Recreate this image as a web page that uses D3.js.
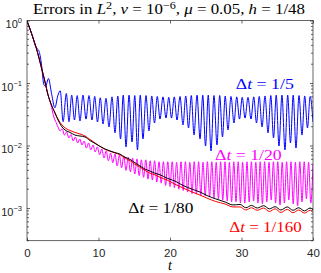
<!DOCTYPE html>
<html>
<head>
<meta charset="utf-8">
<script src="https://cdn.jsdelivr.net/npm/d3@7"></script>
<style>
  body { margin: 0; background: #fff; }
  svg { display: block; }
</style>
</head>
<body>
<div class="wrapper"></div>
<script>
// tick values
var xTicks = [0, 10, 20, 30, 40];
var yTicks = [1, 1e-1, 1e-2, 1e-3];
var yTickExp = ["0", "\u22121", "\u22122", "\u22123"];

// dt = 1/5
var blue = [[0,0.98],[0.42,0.73],[0.84,0.53],[1.1,0.41],[1.36,0.36],[1.65,0.33],[2.0,0.21],[2.35,0.095],[2.6,0.088],
  [3.0,0.118],[3.45,0.066],[3.9,0.040],[4.3,0.062],[4.65,0.075],[5.05,0.024],[5.5,0.068],[5.87,0.024],[6.25,0.064],
  [6.64,0.0256],[7.02,0.063],[7.41,0.0247],[7.83,0.064],[8.25,0.0265],[8.67,0.063],[9.09,0.0256],[9.47,0.061],
  [9.86,0.0238],[10.25,0.058],[10.63,0.0221],[11.05,0.057],[11.47,0.0198],[11.89,0.06],[12.31,0.0159],[12.7,0.062],
  [13.08,0.0127],[13.46,0.064],[13.85,0.0095],[14.27,0.064],[14.69,0.0114],[15.07,0.063],[15.45,0.0085],[15.84,0.064],
  [16.22,0.0127],[16.64,0.063],[17.06,0.0171],[17.45,0.062],[17.83,0.0229],[18.22,0.061],[18.6,0.0265],[19.02,0.06],
  [19.44,0.0275],[19.83,0.059],[20.21,0.0275],[20.6,0.06],[20.98,0.0256],[21.4,0.061],[21.82,0.0213],[22.2,0.062],
  [22.59,0.0191],[22.98,0.063],[23.36,0.0147],[23.78,0.064],[24.2,0.0127],[24.58,0.064],[24.97,0.0098],[25.35,0.064],
  [25.73,0.0082],[26.15,0.063],[26.57,0.0102],[26.95,0.063],[27.34,0.0137],[27.72,0.062],[28.11,0.0177],[28.53,0.061],
  [28.95,0.0229],[29.33,0.06],[29.72,0.0265],[30.1,0.059],[30.49,0.0275],[30.91,0.059],[31.33,0.0265],[31.71,0.06],
  [32.1,0.0229],[32.48,0.061],[32.87,0.0198],[33.29,0.062],[33.71,0.0159],[34.1,0.063],[34.48,0.0132],[34.86,0.064],
  [35.24,0.0098],[35.66,0.064],[36.08,0.0085],[36.46,0.064],[36.85,0.011],[37.23,0.064],[37.62,0.0091],[38.04,0.063],
  [38.46,0.0147],[38.84,0.062],[39.23,0.0191],[39.6,0.061],[40.0,0.0238]];

// dt = 1/20: smooth start, then trough/peak values every half period
var magentaHead = [[0,0.98],[0.42,0.73],[0.84,0.525],[1.26,0.376],[1.68,0.251],[2.1,0.162],[2.52,0.104],
  [2.94,0.0645],[3.36,0.045],[3.7,0.030],[4.1,0.023],[4.4,0.019]];
var magentaStart = 4.615, magentaStep = 0.3077;
var magentaOsc = [0.0171,0.0185, 0.0147,0.0165, 0.0132,0.0150, 0.0118,0.0137, 0.0110,0.0127, 0.0102,0.0118,
  0.0091,0.0110, 0.0085,0.0102, 0.0079,0.0095, 0.0071,0.0088, 0.0063,0.0082, 0.0057,0.0076, 0.0053,0.0073,
  0.0047,0.0070, 0.0044,0.0068, 0.0040,0.0065, 0.0038,0.0063, 0.0035,0.0061, 0.0033,0.0059, 0.0031,0.0059,
  0.0029,0.0057, 0.0028,0.0057, 0.0026,0.0055, 0.0025,0.0055, 0.0023,0.0055, 0.0022,0.0055, 0.0021,0.0054,
  0.0020,0.0055, 0.0019,0.0055, 0.0018,0.0054, 0.0017,0.0055, 0.00167,0.0055, 0.0016,0.0054, 0.00156,0.0055,
  0.0015,0.0055, 0.00145,0.0054, 0.0014,0.0055, 0.00134,0.0055, 0.00129,0.0054, 0.00125,0.0055, 0.00125,0.0055,
  0.0012,0.0054, 0.0012,0.0055, 0.00125,0.0055, 0.00129,0.0054, 0.0012,0.0055, 0.00116,0.0055, 0.00125,0.0054,
  0.00134,0.0055, 0.0012,0.0055, 0.00112,0.0054, 0.0012,0.0055, 0.00134,0.0055, 0.00116,0.0054, 0.00108,0.0055,
  0.00125,0.0055, 0.0014,0.0054, 0.0012,0.0050];

// dt = 1/80
var black = [[0,0.98],[0.42,0.73],[0.84,0.525],[1.26,0.376],[1.68,0.251],[2.1,0.162],[2.52,0.104],[2.94,0.0645],
  [3.36,0.0463],[3.92,0.0331],[4.34,0.0256],[4.9,0.0198],[5.45,0.0173],[6.01,0.0162],[6.71,0.0147],[7.41,0.0142],
  [8.11,0.0137],[8.81,0.0120],[9.51,0.0108],[10.2,0.0097],[10.9,0.0088],[11.6,0.0082],[12.3,0.0077],[13.0,0.0073],
  [13.7,0.0065],[14.4,0.0060],[15.1,0.0053],[15.8,0.0047],[16.5,0.0042],[17.2,0.0039],[17.9,0.0036],[18.6,0.0034],
  [19.6,0.0030],[20.7,0.0027],[21.8,0.0023],[23.1,0.0020],[24.2,0.0018],[25.3,0.00156],[26.4,0.0014],[27.7,0.00125],
  [28.8,0.00112],[29.8,0.00114],[30.6,0.00101],[31.4,0.0011],[32.2,0.001],[33.1,0.00109],[33.9,0.00097],
  [34.7,0.00105],[35.5,0.00093],[36.4,0.00104],[37.2,0.00092],[38.0,0.00101],[38.8,0.0009],[39.6,0.001],[40,0.00093]];

// dt = 1/160
var red = [[0,0.98],[0.42,0.73],[0.84,0.525],[1.26,0.376],[1.68,0.251],[2.1,0.162],[2.52,0.104],[2.94,0.0645],
  [3.36,0.0463],[3.92,0.0331],[4.34,0.0265],[4.9,0.0213],[5.45,0.0187],[6.01,0.0174],[6.71,0.0162],[7.41,0.0153],
  [8.11,0.0142],[8.81,0.0125],[9.51,0.0110],[10.2,0.0097],[10.9,0.0087],[11.6,0.0081],[12.3,0.0076],[13.0,0.0071],
  [13.7,0.0063],[14.4,0.0057],[15.1,0.0050],[15.8,0.0045],[16.5,0.0040],[17.2,0.0036],[17.9,0.0034],[18.6,0.0031],
  [19.6,0.0028],[20.7,0.0024],[21.8,0.0021],[23.1,0.0018],[24.2,0.00161],[25.3,0.00142],[26.4,0.00127],[27.7,0.00116],
  [28.8,0.00104],[29.8,0.00104],[30.6,0.00093],[31.4,0.00101],[32.2,0.00092],[33.1,0.001],[33.9,0.00088],
  [34.7,0.00097],[35.5,0.00085],[36.4,0.00095],[37.2,0.00084],[38.0,0.00093],[38.8,0.00083],[39.6,0.00092],[40,0.00085]];

var seriesLabels = ["1/5", "1/20", "1/80", "1/160"];

var w = 321, h = 273,
    x0 = 27, x1 = 313, y0 = 20.5, y1 = 240.7;

var svg = d3.select(".wrapper").append("svg")
    .attr("width", w)
    .attr("height", h);

var x = d3.scaleLinear().domain([0, 40]).range([x0, x1]);
var y = d3.scaleLog().domain([3e-4, 1]).range([y1, y0]);

svg.append("clipPath").attr("id", "clip")
  .append("rect").attr("x", x0).attr("y", y0).attr("width", x1 - x0).attr("height", y1 - y0);

var line = d3.line()
    .x(function(d) { return x(d[0]); })
    .y(function(d) { return y(d[1]); })
    .curve(d3.curveMonotoneX);

var magenta = magentaHead.concat(magentaOsc.map(function(v, i) {
  return [magentaStart + i * magentaStep, v];
}));

var series = [
  {data: blue, color: "#0000ff"},
  {data: magenta, color: "#ff00ff"},
  {data: red, color: "#ff0000"},
  {data: black, color: "#000000"}
];

var plot = svg.append("g").attr("clip-path", "url(#clip)");
plot.selectAll("path")
    .data(series)
  .enter().append("path")
    .attr("d", function(d) { return line(d.data); })
    .attr("fill", "none")
    .attr("stroke", function(d) { return d.color; })
    .attr("stroke-width", 1)
    .attr("stroke-linejoin", "round");

// axes (ticks inside, box)
var axisColor = "#262626";
var tickFont = "'Liberation Sans', Arial, Helvetica, sans-serif";

var gx = svg.append("g").attr("transform", "translate(0," + y1 + ")")
    .call(d3.axisBottom(x).tickValues(xTicks).tickSize(-3).tickPadding(8.5).tickFormat(d3.format("d")));
gx.select(".domain").remove();
gx.selectAll("line").attr("stroke", axisColor).attr("stroke-width", 0.7);
gx.selectAll("text").attr("font-family", tickFont).attr("font-size", 11.5).attr("fill", axisColor);

svg.append("g").attr("transform", "translate(0," + y0 + ")")
    .call(d3.axisTop(x).tickValues(xTicks).tickSize(-3).tickFormat(""))
    .call(function(g) { g.select(".domain").remove(); g.selectAll("line").attr("stroke", axisColor).attr("stroke-width", 0.7); });

var gy = svg.append("g").attr("transform", "translate(" + x0 + ",0)")
    .call(d3.axisLeft(y).tickValues(yTicks).tickSize(-3).tickPadding(5).tickFormat(""));
gy.select(".domain").remove();
gy.selectAll("line").attr("stroke", axisColor).attr("stroke-width", 0.7);
gy.selectAll(".tick text").each(function(d, i) {
  var t = d3.select(this).attr("dy", null).attr("y", 7)
      .attr("font-family", tickFont).attr("font-size", 11).attr("fill", axisColor);
  t.append("tspan").text("10");
  t.append("tspan").attr("font-size", 7.5).attr("dy", -5).text(yTickExp[yTicks.indexOf(d)]);
});

svg.append("g").attr("transform", "translate(" + x1 + ",0)")
    .call(d3.axisRight(y).tickValues(yTicks).tickSize(-3).tickFormat(""))
    .call(function(g) { g.select(".domain").remove(); g.selectAll("line").attr("stroke", axisColor).attr("stroke-width", 0.7); });

// minor log ticks
var minor = [];
[-4, -3, -2, -1].forEach(function(e) {
  d3.range(2, 10).forEach(function(m) {
    var v = m * Math.pow(10, e);
    if (v >= 3e-4 && v < 1) minor.push(v);
  });
});
svg.append("g").selectAll("line.minl").data(minor).enter().append("line")
    .attr("x1", x0).attr("x2", x0 + 2)
    .attr("y1", function(d) { return y(d); }).attr("y2", function(d) { return y(d); })
    .attr("stroke", axisColor).attr("stroke-width", 0.7);
svg.append("g").selectAll("line.minr").data(minor).enter().append("line")
    .attr("x1", x1).attr("x2", x1 - 2)
    .attr("y1", function(d) { return y(d); }).attr("y2", function(d) { return y(d); })
    .attr("stroke", axisColor).attr("stroke-width", 0.7);

svg.append("rect")
    .attr("x", x0).attr("y", y0).attr("width", x1 - x0).attr("height", y1 - y0)
    .attr("fill", "none").attr("stroke", axisColor).attr("stroke-width", 0.7);

// text in LaTeX-ish serif
var serif = "'Liberation Serif', 'Times New Roman', serif";
function mathText(g, parts) {
  parts.forEach(function(p) {
    var s = g.append("tspan").text(p.t);
    if (p.it) s.attr("font-style", "italic");
    if (p.sup) s.attr("font-size", "0.72em").attr("dy", -5);
    if (p.down) s.attr("dy", 5);
  });
  return g;
}

var title = svg.append("text")
    .attr("x", 33).attr("y", 14)
    .attr("font-family", serif).attr("font-size", 14).attr("fill", "#000")
    .attr("textLength", 272).attr("lengthAdjust", "spacingAndGlyphs");
mathText(title, [
  {t: "Errors in "}, {t: "L", it: true}, {t: "2", sup: true}, {t: ", ", down: true},
  {t: "\u03bd", it: true}, {t: " = 10"}, {t: "\u22126", sup: true}, {t: ", ", down: true},
  {t: "\u03bc", it: true}, {t: " = 0.05, "}, {t: "h", it: true}, {t: " = 1/48"}
]);

var labels = [
  {t: 29.2, v: 0.080, wd: 58, color: "#0000ff"},
  {t: 26.3, v: 0.00586, wd: 66.7, color: "#ff00ff"},
  {t: 14.17, v: 0.00083, wd: 65, color: "#000000"},
  {t: 28.3, v: 0.000413, wd: 72.4, color: "#ff0000"}
];
labels.forEach(function(l, i) {
  var g = svg.append("text")
      .attr("x", x(l.t)).attr("y", y(l.v))
      .attr("font-family", serif).attr("font-size", 14).attr("fill", l.color)
      .attr("textLength", l.wd).attr("lengthAdjust", "spacingAndGlyphs");
  mathText(g, [{t: "\u0394"}, {t: "t", it: true}, {t: " = " + seriesLabels[i]}]);
});

svg.append("text")
    .attr("x", x(20)).attr("y", 270)
    .attr("text-anchor", "middle")
    .attr("font-family", serif).attr("font-style", "italic").attr("font-size", 14)
    .text("t");
</script>
</body>
</html>
